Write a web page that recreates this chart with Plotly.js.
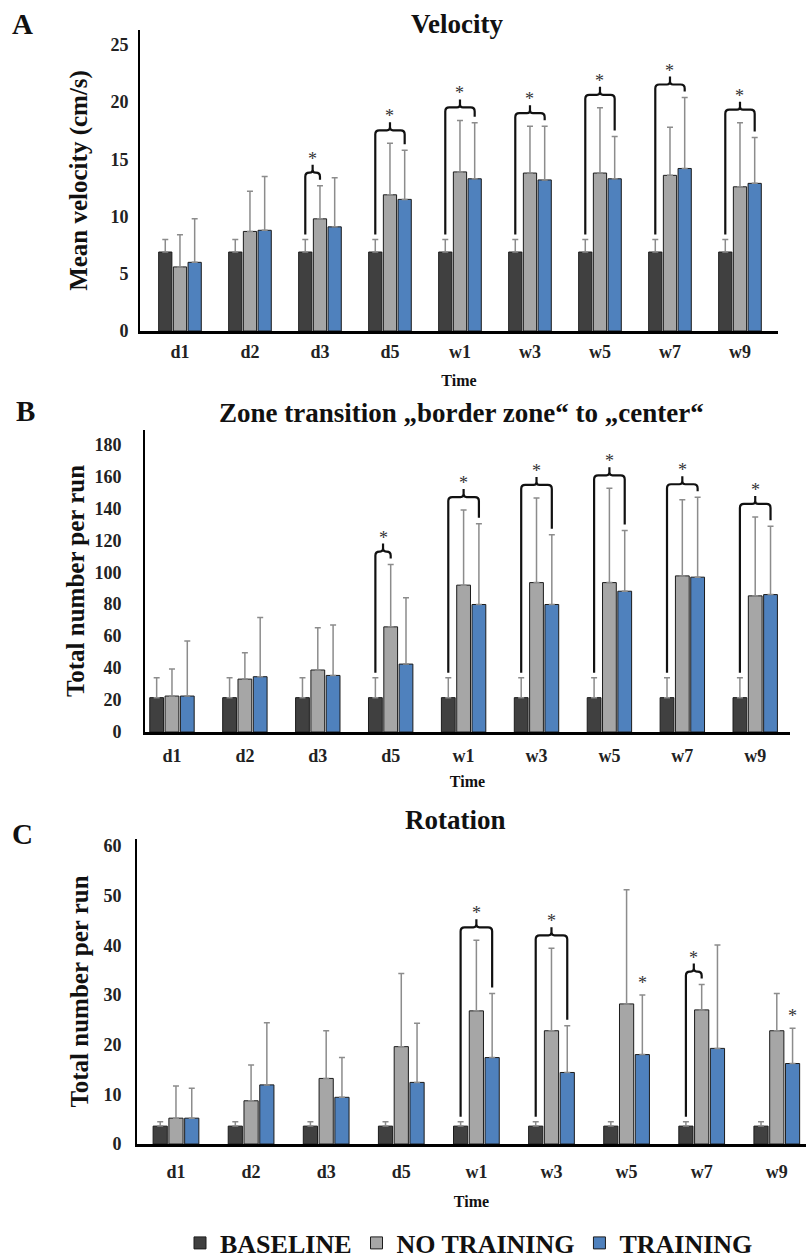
<!DOCTYPE html>
<html><head><meta charset="utf-8">
<script src="https://cdn.plot.ly/plotly-3.0.1.min.js"></script>
<style>html,body{margin:0;padding:0;background:#fff}#chart{width:806px;height:1258px}</style>
</head><body><div id="chart"></div>
<script>
// ---------------- DATA ----------------
const categories = ['d1','d2','d3','d5','w1','w3','w5','w7','w9'];
const seriesNames = ['BASELINE','NO TRAINING','TRAINING'];

// A: Velocity (cm/s)
const velBaseline      = [6.9, 6.9, 6.9, 6.9, 6.9, 6.9, 6.9, 6.9, 6.9];
const velBaselineErr   = [1.1, 1.1, 1.1, 1.1, 1.1, 1.1, 1.1, 1.1, 1.1];
const velNoTraining    = [5.6, 8.7, 9.8, 11.9, 13.9, 13.8, 13.8, 13.6, 12.6];
const velNoTrainingErr = [2.8, 3.5, 2.9, 4.5, 4.5, 4.1, 5.7, 4.2, 5.6];
const velTraining      = [6.0, 8.8, 9.1, 11.5, 13.3, 13.2, 13.3, 14.2, 12.9];
const velTrainingErr   = [3.8, 4.7, 4.3, 4.3, 4.9, 4.7, 3.7, 6.2, 4.0];
const velBracketCats    = ['d3','d5','w1','w3','w5','w7','w9'];
const velBracketTargets = ['NO TRAINING','TRAINING','TRAINING','TRAINING','TRAINING','TRAINING','TRAINING'];
const velStarCats    = [];
const velStarTargets = [];

// B: Zone transition
const zoneBaseline      = [21.5, 21.5, 21.5, 21.5, 21.5, 21.5, 21.5, 21.5, 21.5];
const zoneBaselineErr   = [12.5, 12.5, 12.5, 12.5, 12.5, 12.5, 12.5, 12.5, 12.5];
const zoneNoTraining    = [22.5, 33.1, 38.8, 65.8, 91.9, 93.5, 93.5, 97.7, 85.2];
const zoneNoTrainingErr = [17.0, 16.5, 26.5, 39.0, 47.0, 53.0, 59.0, 47.7, 49.4];
const zoneTraining      = [22.5, 34.6, 35.4, 42.5, 79.8, 79.8, 88.1, 96.9, 86.0];
const zoneTrainingErr   = [34.5, 37.0, 31.5, 41.5, 50.6, 43.7, 38.0, 50.0, 42.7];
const zoneBracketCats    = ['d5','w1','w3','w5','w7','w9'];
const zoneBracketTargets = ['NO TRAINING','TRAINING','TRAINING','TRAINING','TRAINING','TRAINING'];
const zoneStarCats    = [];
const zoneStarTargets = [];

// C: Rotation
const rotBaseline      = [3.6, 3.6, 3.6, 3.6, 3.6, 3.6, 3.6, 3.6, 3.6];
const rotBaselineErr   = [0.9, 0.9, 0.9, 0.9, 0.9, 0.9, 0.9, 0.9, 0.9];
const rotNoTraining    = [5.2, 8.7, 13.2, 19.6, 26.8, 22.8, 28.2, 27.0, 22.8];
const rotNoTrainingErr = [6.5, 7.2, 9.6, 14.7, 14.2, 16.6, 23.0, 5.1, 7.5];
const rotTraining      = [5.2, 11.9, 9.4, 12.4, 17.4, 14.4, 18.0, 19.25, 16.2];
const rotTrainingErr   = [6.0, 12.5, 8.0, 11.9, 12.9, 9.4, 12.0, 20.8, 7.1];
const rotBracketCats    = ['w1','w3','w7'];
const rotBracketTargets = ['TRAINING','TRAINING','NO TRAINING'];
const rotStarCats    = ['w5','w9'];
const rotStarTargets = ['TRAINING','TRAINING'];

const panelTitles = ['Velocity', 'Zone transition \u201Eborder zone\u201C to \u201Ecenter\u201C', 'Rotation'];
const panelLetters = ['A','B','C'];
const yTitles = ['Mean velocity (cm/s)', 'Total number per run', 'Total number per run'];
const xTitle = 'Time';

// ---------------- LAYOUT CONFIG ----------------
const W = 806, H = 1258;
const FONT = "'Liberation Serif', 'Times New Roman', serif";
const colors = ['#404040', '#a6a6a6', '#4f81bd'];
const bargap = 0.37, bargroupgap = 0.1;
const slot = (1 - bargap) / 3;

const geo = [
  {x0:140, x1:778, yTop:30,  yBot:331,  xr:[-0.571, 8.543], ymax:26.3, dtick:5,  title:[457, 24],  letter:[22, 24],
   ylab:6,  ytitle:16, xlab:3,  xtitle:14},
  {x0:145, x1:790, yTop:430, yBot:732,  xr:[-0.370, 8.477], ymax:189,  dtick:20, title:[461, 413], letter:[25, 411],
   ylab:18, ytitle:3,  xlab:6,  xtitle:11},
  {x0:137, x1:806, yTop:839, yBot:1144, xr:[-0.519, 8.389], ymax:61.4, dtick:10, title:[455, 820], letter:[22, 834],
   ylab:10, ytitle:8,  xlab:10, xtitle:15}
];

const panels = [
  {means:[velBaseline, velNoTraining, velTraining], errs:[velBaselineErr, velNoTrainingErr, velTrainingErr],
   bCats:velBracketCats, bTargets:velBracketTargets, sCats:velStarCats, sTargets:velStarTargets},
  {means:[zoneBaseline, zoneNoTraining, zoneTraining], errs:[zoneBaselineErr, zoneNoTrainingErr, zoneTrainingErr],
   bCats:zoneBracketCats, bTargets:zoneBracketTargets, sCats:zoneStarCats, sTargets:zoneStarTargets},
  {means:[rotBaseline, rotNoTraining, rotTraining], errs:[rotBaselineErr, rotNoTrainingErr, rotTrainingErr],
   bCats:rotBracketCats, bTargets:rotBracketTargets, sCats:rotStarCats, sTargets:rotStarTargets}
];

const idx = categories.map((c, i) => i);
const traces = [];
const layout = {
  width: W, height: H,
  margin: {l:0, r:0, t:0, b:0, autoexpand:false},
  paper_bgcolor: '#fff', plot_bgcolor: '#fff',
  barmode: 'group', bargap: bargap, bargroupgap: bargroupgap,
  showlegend: true,
  legend: {orientation:'h', x:180/W, xanchor:'left', y:1-1243/H, yanchor:'middle',
           font:{family:FONT, size:26, color:'#111', weight:'bold'}, itemwidth:30,
           traceorder:'normal', bgcolor:'rgba(0,0,0,0)'},
  annotations: [], shapes: []
};

panels.forEach((p, k) => {
  const g = geo[k];
  const suf = k === 0 ? '' : String(k + 1);
  const pxY = (g.yBot - g.yTop) / g.ymax;          // pixels per y unit
  const pxX = (g.x1 - g.x0) / (g.xr[1] - g.xr[0]); // pixels per x unit

  seriesNames.forEach((name, s) => {
    traces.push({
      type:'bar', name:name, x:idx, y:p.means[s],
      xaxis:'x'+suf, yaxis:'y'+suf,
      showlegend:k === 0, legendgroup:name,
      marker:{color:colors[s], line:{color:'#1c1c1c', width:1}},
      error_y:{type:'data', symmetric:false, array:p.errs[s], arrayminus:p.errs[s].map(() => 0),
               color:'#8c8c8c', thickness:1.5, width:3},
      hoverinfo:'skip'
    });
  });

  layout['xaxis'+suf] = {
    domain:[g.x0/W, g.x1/W], range:g.xr, anchor:'y'+suf,
    tickvals:idx, ticktext:categories, ticks:'', showgrid:false, zeroline:false,
    showline:true, linecolor:'#000', linewidth:2.5,
    tickfont:{family:FONT, size:18, color:'#222', weight:'bold'}, ticklabelstandoff:g.xlab,
    title:{text:xTitle, font:{family:FONT, size:16, color:'#111', weight:'bold'}, standoff:g.xtitle}
  };
  layout['yaxis'+suf] = {
    domain:[1-g.yBot/H, 1-g.yTop/H], range:[0, g.ymax], anchor:'x'+suf,
    dtick:g.dtick, ticks:'', showgrid:false, zeroline:false,
    showline:true, linecolor:'#000', linewidth:2,
    tickfont:{family:FONT, size:18, color:'#222', weight:'bold'}, ticklabelstandoff:g.ylab,
    title:{text:yTitles[k], font:{family:FONT, size:25, color:'#111', weight:'bold'}, standoff:g.ytitle}
  };

  // panel title and letter
  layout.annotations.push({xref:'paper', yref:'paper', x:g.title[0]/W, y:1-g.title[1]/H,
    xanchor:'center', yanchor:'middle', showarrow:false, text:panelTitles[k],
    font:{family:FONT, size:27, color:'#111', weight:'bold'}});
  layout.annotations.push({xref:'paper', yref:'paper', x:g.letter[0]/W, y:1-g.letter[1]/H,
    xanchor:'center', yanchor:'middle', showarrow:false, text:panelLetters[k],
    font:{family:FONT, size:29, color:'#111', weight:'bold'}});

  const off = [-slot, 0, slot];
  const cap = (s, i) => p.means[s][i] + p.errs[s][i];

  // significance brackets
  p.bCats.forEach((c, j) => {
    const i = categories.indexOf(c);
    const t = seriesNames.indexOf(p.bTargets[j]);
    const xL = i + off[0], xR = i + off[t], xm = (xL + xR) / 2;
    let mx = 0; for (let s = 0; s <= t; s++) mx = Math.max(mx, cap(s, i));
    const yTop = mx + 13 / pxY;
    const yL = cap(0, i) + 5 / pxY;
    const yR = cap(t, i) + 6 / pxY;
    const ry = 4 / pxY, rx = 4 / pxX, notch = 8 / pxY, nr = 3 / pxY, nx = 3 / pxX;
    const path = `M${xL},${yL} L${xL},${yTop-ry} Q${xL},${yTop} ${xL+rx},${yTop} ` +
      `L${xm-nx},${yTop} Q${xm},${yTop} ${xm},${yTop+nr} L${xm},${yTop+notch} ` +
      `M${xm},${yTop+nr} Q${xm},${yTop} ${xm+nx},${yTop} ` +
      `L${xR-rx},${yTop} Q${xR},${yTop} ${xR},${yTop-ry} L${xR},${yR}`;
    layout.shapes.push({type:'path', xref:'x'+suf, yref:'y'+suf, path:path,
      line:{color:'#111', width:2.2}});
    layout.annotations.push({xref:'x'+suf, yref:'y'+suf, x:xm, y:yTop+notch,
      xanchor:'center', yanchor:'bottom', yshift:-6, showarrow:false, text:'*',
      font:{family:FONT, size:18, color:'#333'}});
  });

  // lone stars
  p.sCats.forEach((c, j) => {
    const i = categories.indexOf(c);
    const t = seriesNames.indexOf(p.sTargets[j]);
    layout.annotations.push({xref:'x'+suf, yref:'y'+suf, x:i + off[t], y:cap(t, i),
      xanchor:'center', yanchor:'bottom', yshift:0, showarrow:false, text:'*',
      font:{family:FONT, size:18, color:'#333'}});
  });
});

Plotly.newPlot('chart', traces, layout, {staticPlot:true, displayModeBar:false});
</script>
</body></html>
